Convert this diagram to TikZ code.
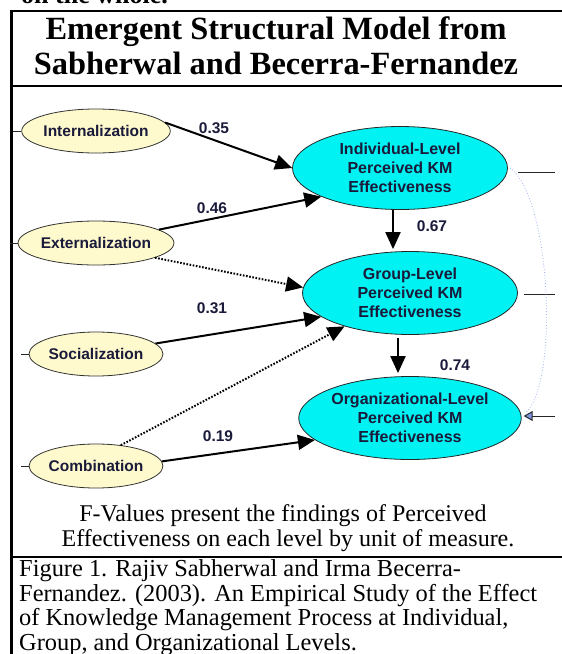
\documentclass[tikz,border=0pt]{standalone}
\usepackage{fontspec}
\setmainfont{Liberation Serif}
\newfontfamily\arialf{Liberation Sans}
\usetikzlibrary{shapes.geometric,arrows.meta}
\definecolor{srcfill}{HTML}{FFFACD}
\definecolor{lvlfill}{HTML}{00F2F2}
\definecolor{navytxt}{HTML}{1A1A3A}
\definecolor{curveblue}{HTML}{9DB0F0}
\definecolor{tipblue}{HTML}{7F95E0}
\tikzset{
  srcnode/.style={ellipse, draw=black!80, line width=0.8pt, fill=srcfill, minimum width=122pt, minimum height=44pt, inner sep=0pt, text=navytxt, font=\arialf\bfseries\fontsize{15.5}{17}\selectfont},
  lvlnode/.style={ellipse, draw=black!85, line width=0.8pt, fill=lvlfill, minimum width=215pt, minimum height=83pt, inner sep=0pt, align=center, text=navytxt, font=\arialf\bfseries\fontsize{16}{19}\selectfont},
  pathlbl/.style={text=navytxt, font=\arialf\bfseries\fontsize{15.5}{17}\selectfont, inner sep=0pt},
  arr/.style={line width=2pt, -{Triangle[length=17pt,width=15pt]}},
  dotarr/.style={line width=2pt, dash pattern=on 1.6pt off 1.6pt, -{Triangle[length=17pt,width=15pt]}},
  stub/.style={line width=1pt, black!85},
  rule/.style={line width=2.4pt},
}
\begin{document}
\begin{tikzpicture}[x=1pt,y=-1pt]
\useasboundingbox (0,0) rectangle (562,654);
\clip (0,0) rectangle (562,654);
% previous page text, cut off
\node[anchor=base west, inner sep=0pt, font=\bfseries\fontsize{26}{28}\selectfont] (prev) at (21,3) {on the whole.};
% table rules
\draw[rule] (11.5,11) -- (575,11);
\draw[rule] (11.5,9.8) -- (11.5,660);
\draw[rule] (11.5,86) -- (575,86);
\draw[rule] (11.5,557) -- (575,557);
% title
\node[anchor=base, inner sep=0pt, font=\bfseries\fontsize{32.4}{34}\selectfont] (t1) at (276,39) {Emergent Structural Model from};
\node[anchor=base, inner sep=0pt, font=\bfseries\fontsize{32.4}{34}\selectfont] (t2) at (276,74) {Sabherwal and Becerra-Fernandez};
% source constructs
\node[srcnode] (int) at (96,131) {Internalization};
\node[srcnode] (ext) at (96,243) {Externalization};
\node[srcnode] (soc) at (96,354) {Socialization};
\node[srcnode] (com) at (96,466) {Combination};
\foreach \n in {int,ext,soc,com} { \draw[stub] (\n.west) -- ++(-8,0); }
% level constructs
\node[lvlnode] (ind) at (400,168) {Individual-Level\\Perceived KM\\Effectiveness};
\node[lvlnode] (grp) at (410,293) {Group-Level\\Perceived KM\\Effectiveness};
\node[lvlnode] (org) at (410,418) {Organizational-Level\\Perceived KM\\Effectiveness};
% paths
\draw[arr] (int.7) -- (ind.west);
\draw[arr] (ext.12) -- (ind.200);
\draw[dotarr] (ext.-14) -- (grp.177);
\draw[arr] (soc.10) -- (grp.195);
\draw[dotarr] (com.40) -- (grp.207);
\draw[arr] (com.4) -- (org.193);
\draw[arr] ([xshift=-7pt]ind.south) -- ([xshift=-17pt,yshift=2pt]grp.north);
\draw[arr] ([xshift=-12pt,yshift=-3pt]grp.south) -- ([xshift=-12pt,yshift=3pt]org.north);
% path labels
\node[pathlbl] (l35) at (214,128) {0.35};
\node[pathlbl] (l46) at (212,208) {0.46};
\node[pathlbl] (l31) at (212,308) {0.31};
\node[pathlbl] (l19) at (218,436) {0.19};
\node[pathlbl] (l67) at (432,226) {0.67};
\node[pathlbl] (l74) at (455,365) {0.74};
% right-hand side
\coordinate (r1) at (555,172);
\coordinate (r2) at (555,294);
\coordinate (r3) at (555,416);
\draw[stub] ([xshift=10pt,yshift=-4pt]ind.east) -- (r1);
\draw[stub] ([xshift=6pt,yshift=-1pt]grp.east) -- (r2);
\draw[stub, -{Triangle[open, fill=tipblue, length=9pt, width=10pt]}] (r3) -- ([xshift=2pt,yshift=2pt]org.east);
\draw[curveblue, line width=0.8pt, dotted] ([xshift=2pt]ind.east) .. controls (550,195) and (560,380) .. ([xshift=4pt,yshift=5pt]org.east);
% caption
\node[anchor=base, inner sep=0pt, font=\fontsize{24}{25}\selectfont] (c1) at (283,521) {F-Values present the findings of Perceived};
\node[anchor=base, inner sep=0pt, font=\fontsize{24}{25}\selectfont] (c2) at (288,546) {Effectiveness on each level by unit of measure.};
% reference
\node[anchor=base west, inner sep=0pt, align=left, font=\fontsize{24.4}{24.5}\selectfont] (ref) at (19,650) {Figure 1. Rajiv Sabherwal and Irma Becerra-\\Fernandez. (2003). An Empirical Study of the Effect\\of Knowledge Management Process at Individual,\\Group, and Organizational Levels.};
\end{tikzpicture}
\end{document}
